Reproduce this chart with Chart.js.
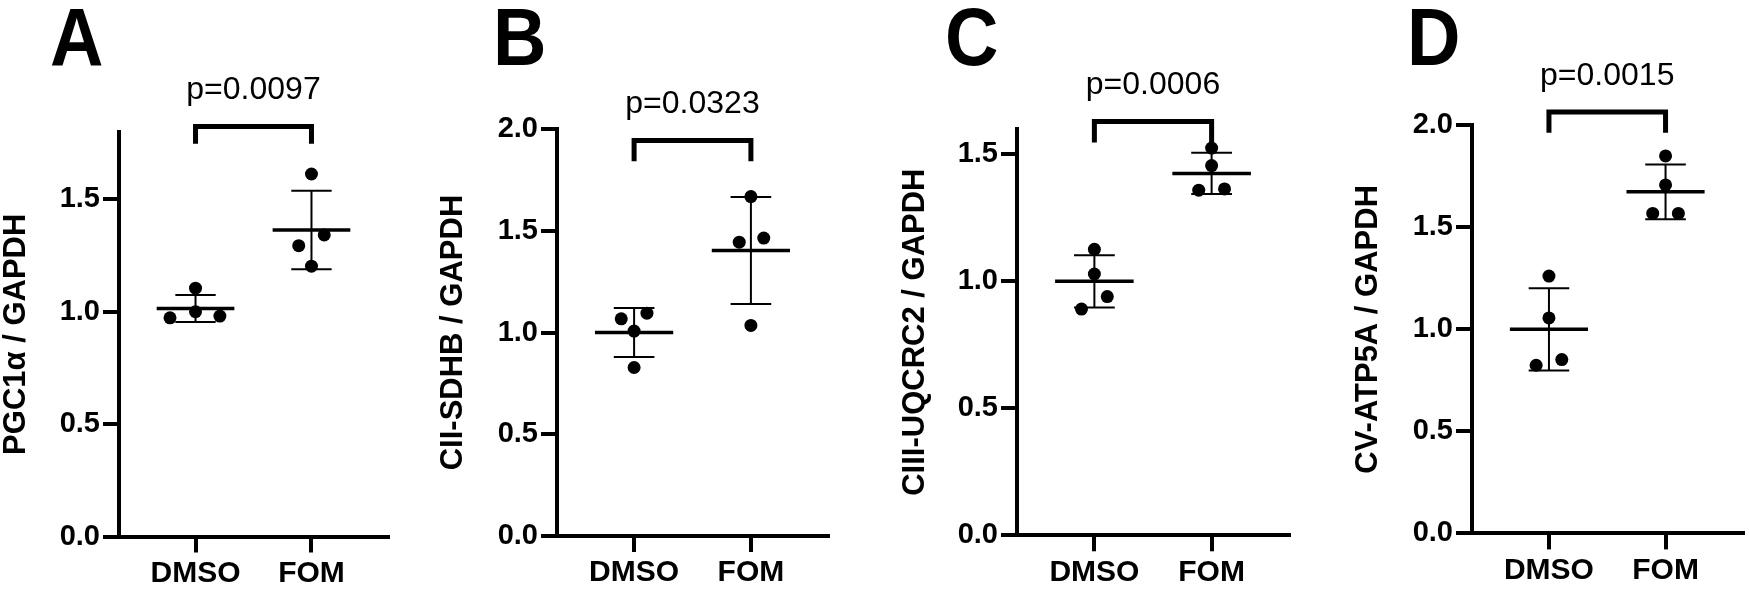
<!DOCTYPE html>
<html>
<head>
<meta charset="utf-8">
<script src="https://cdn.jsdelivr.net/npm/chart.js@4.4.1/dist/chart.umd.min.js"></script>
<style>
  body { margin: 0; background: #fff; width: 1749px; height: 596px; position: relative; overflow: hidden; }
  canvas { position: absolute; top: 0; }
</style>
</head>
<body>
<canvas id="p0"></canvas>
<canvas id="p1"></canvas>
<canvas id="p2"></canvas>
<canvas id="p3"></canvas>
<script>
// ---- data ----
const groups = ['DMSO', 'FOM'];
const panelLetters = ['A', 'B', 'C', 'D'];
const yTitles = ['PGC1α / GAPDH', 'CII-SDHB / GAPDH', 'CIII-UQCRC2 / GAPDH', 'CV-ATP5A / GAPDH'];
const pLabels = ['p=0.0097', 'p=0.0323', 'p=0.0006', 'p=0.0015'];
const yMax = [1.8, 2.0, 1.6, 2.0];
const yTickValues = [
    [0, 0.5, 1.0, 1.5],
    [0, 0.5, 1.0, 1.5, 2.0],
    [0, 0.5, 1.0, 1.5],
    [0, 0.5, 1.0, 1.5, 2.0]
];

// individual points, one array per panel and group
const dmsoPoints = [
    [1.105, 0.973, 1.000, 0.981],
    [1.067, 1.095, 1.007, 0.828],
    [1.126, 1.029, 0.940, 0.891],
    [1.261, 1.056, 0.824, 0.852]
];
const fomPoints = [
    [1.613, 1.342, 1.294, 1.203],
    [1.668, 1.444, 1.464, 1.035],
    [1.525, 1.456, 1.359, 1.364],
    [1.850, 1.708, 1.568, 1.568]
];

// mean and SD as drawn
const meanDmso = [1.015, 1.000, 1.000, 1.000];
const meanFom = [1.364, 1.403, 1.425, 1.674];
const sdDmso = [0.060, 0.121, 0.103, 0.202];
const sdFom = [0.175, 0.263, 0.081, 0.134];

// ---- layout (not data) ----
const FONT = '"Liberation Sans", Arial, Helvetica, sans-serif';
// horizontal spread of the dots, in category units
const spread = [
    [[0, -0.22, 0, 0.21], [0, 0.11, -0.11, 0]],
    [[-0.11, 0.11, 0, 0], [0, -0.10, 0.11, 0]],
    [[0, 0, 0.11, -0.11], [0, 0, -0.11, 0.11]],
    [[0, 0, -0.11, 0.11], [0, 0, -0.11, 0.11]]
];
const geom = [
    { cx: 0,    w: 432, axis: 119,  end: 388,  top: 132,   zero: 536.5, letterX: 50, bt: 1.824, bb: 1.748 },
    { cx: 437,  w: 462, axis: 557,  end: 828,  top: 129,   zero: 536,   letterX: 56, bt: 1.944, bb: 1.841 },
    { cx: 899,  w: 453, axis: 1017, end: 1289, top: 129,   zero: 535.3, letterX: 46, bt: 1.630, bb: 1.547 },
    { cx: 1352, w: 397, axis: 1472, end: 1743, top: 125.3, zero: 533.4, letterX: 55, bt: 2.065, bb: 1.963 }
];

function seg(x1, y1, x2, y2, w) {
    return {
        type: 'line',
        data: [{ x: x1, y: y1 }, { x: x2, y: y2 }],
        borderColor: '#000',
        borderWidth: w,
        pointRadius: 0,
        pointHoverRadius: 0,
        fill: false,
        tension: 0
    };
}

function makePanel(i) {
    const g = geom[i];
    const canvas = document.getElementById('p' + i);
    canvas.width = g.w;
    canvas.height = 596;
    canvas.style.left = g.cx + 'px';

    const pts = [];
    [dmsoPoints[i], fomPoints[i]].forEach((arr, gi) => {
        arr.forEach((v, k) => pts.push({ x: gi + spread[i][gi][k], y: v }));
    });

    const datasets = [{
        type: 'scatter',
        data: pts,
        pointRadius: 6.5,
        pointHoverRadius: 6.5,
        pointBackgroundColor: '#000',
        pointBorderWidth: 0
    }];

    [[meanDmso, sdDmso], [meanFom, sdFom]].forEach(([m, s], gi) => {
        const mu = m[i], sd = s[i];
        datasets.push(seg(gi - 0.335, mu, gi + 0.335, mu, 3.5));
        datasets.push(seg(gi, mu - sd, gi, mu + sd, 2));
        datasets.push(seg(gi - 0.174, mu + sd, gi + 0.174, mu + sd, 2));
        datasets.push(seg(gi - 0.174, mu - sd, gi + 0.174, mu - sd, 2));
    });

    // significance bracket
    datasets.push({
        type: 'line',
        data: [{ x: 0, y: g.bb }, { x: 0, y: g.bt }, { x: 1, y: g.bt }, { x: 1, y: g.bb }],
        borderColor: '#000',
        borderWidth: 5,
        borderJoinStyle: 'miter',
        pointRadius: 0,
        fill: false,
        tension: 0,
        clip: false
    });

    const labelsPlugin = {
        id: 'labels' + i,
        afterDraw(chart) {
            const ctx = chart.ctx;
            ctx.save();
            ctx.fillStyle = '#000';
            // panel letter, a little taller than wide like the original
            ctx.save();
            ctx.translate(g.letterX, 65);
            ctx.scale(1, 1.1);
            ctx.font = 'bold 74px ' + FONT;
            ctx.textAlign = 'left';
            ctx.textBaseline = 'alphabetic';
            ctx.fillText(panelLetters[i], 0, 0);
            ctx.restore();

            const xs = chart.scales.x, ys = chart.scales.y;
            ctx.font = '32px ' + FONT;
            ctx.textAlign = 'center';
            ctx.textBaseline = 'middle';
            ctx.fillText(pLabels[i], xs.getPixelForValue(0.5), ys.getPixelForValue(g.bt) - 36);
            ctx.restore();
        }
    };

    new Chart(canvas, {
        type: 'scatter',
        data: { datasets: datasets },
        options: {
            responsive: false,
            animation: false,
            events: [],
            layout: {
                padding: {
                    left: 0,
                    right: g.cx + g.w - g.end,
                    top: g.top,
                    bottom: 596 - g.zero - 50
                }
            },
            plugins: {
                legend: { display: false },
                tooltip: { enabled: false }
            },
            scales: {
                x: {
                    type: 'linear',
                    min: -0.66,
                    max: 1.66,
                    afterFit: s => { s.height = 50; },
                    afterBuildTicks: s => { s.ticks = [{ value: 0 }, { value: 1 }]; },
                    grid: { drawOnChartArea: false, color: '#000', lineWidth: 4, tickLength: 16 },
                    border: { color: '#000', width: 4 },
                    ticks: {
                        callback: v => groups[v],
                        color: '#000',
                        font: { family: FONT, weight: 'bold', size: 30 },
                        padding: 3,
                        autoSkip: false,
                        maxRotation: 0
                    }
                },
                y: {
                    min: 0,
                    max: yMax[i],
                    afterFit: s => { s.width = g.axis - g.cx; },
                    afterBuildTicks: s => { s.ticks = yTickValues[i].map(v => ({ value: v })); },
                    grid: { drawOnChartArea: false, color: '#000', lineWidth: 4, tickLength: 16 },
                    border: { color: '#000', width: 4 },
                    ticks: {
                        callback: v => Number(v).toFixed(1),
                        color: '#000',
                        font: { family: FONT, weight: 'bold', size: 29 },
                        padding: 3
                    },
                    title: {
                        display: true,
                        text: yTitles[i],
                        color: '#000',
                        font: { family: FONT, weight: 'bold', size: 31 },
                        padding: { top: -2, bottom: 0 }
                    }
                }
            }
        },
        plugins: [labelsPlugin]
    });
}

window.onload = () => {
    for (let i = 0; i < 4; i++) makePanel(i);
};
</script>
</body>
</html>
